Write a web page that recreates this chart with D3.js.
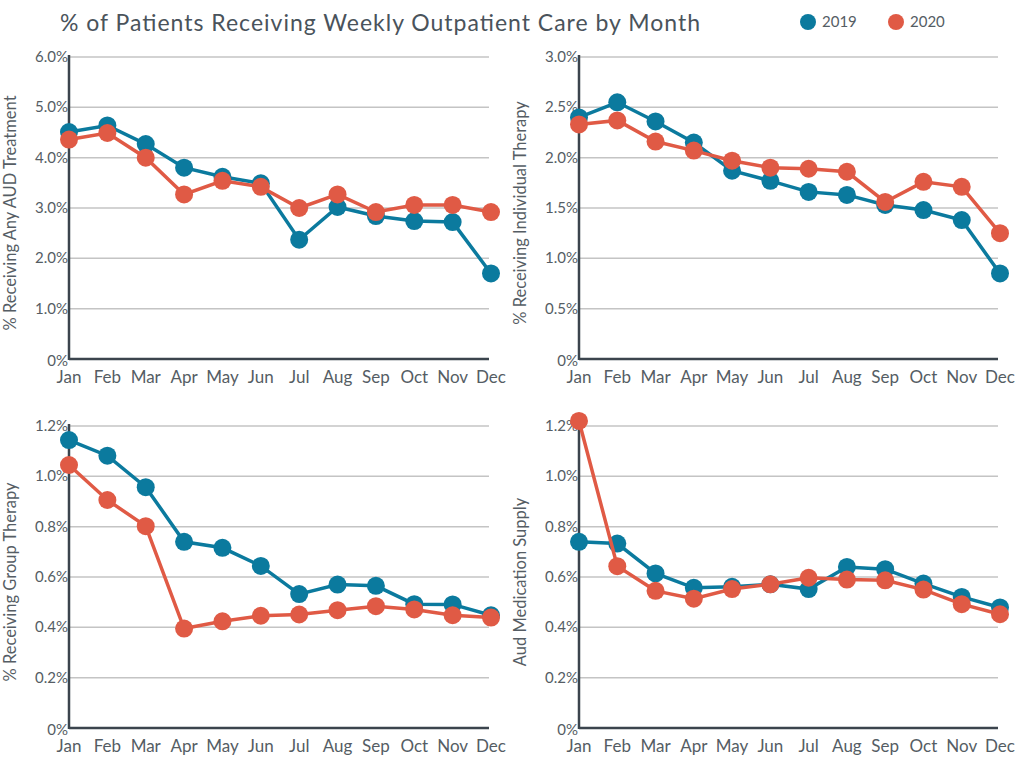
<!DOCTYPE html>
<html>
<head>
<meta charset="utf-8">
<script src="https://cdn.jsdelivr.net/npm/d3@7"></script>
<style>
  body { margin: 0; background: #fff; }
  text { font-family: "Lato", "DejaVu Sans", sans-serif; fill: #555d64; }
</style>
</head>
<body>
<svg id="chart" width="1024" height="768"></svg>
<script>
const months = ["Jan","Feb","Mar","Apr","May","Jun","Jul","Aug","Sep","Oct","Nov","Dec"];
const years = ["2019", "2020"];
const colors = ["#0b7a9e", "#e05a45"];

// values in percent
const anyAud2019 = [4.51, 4.64, 4.27, 3.80, 3.62, 3.49, 2.37, 3.02, 2.84, 2.74, 2.72, 1.70];
const anyAud2020 = [4.36, 4.49, 4.00, 3.27, 3.54, 3.42, 3.00, 3.27, 2.92, 3.06, 3.06, 2.92];
const indiv2019 = [2.40, 2.55, 2.36, 2.15, 1.87, 1.77, 1.66, 1.63, 1.53, 1.48, 1.38, 0.85];
const indiv2020 = [2.33, 2.37, 2.16, 2.07, 1.97, 1.90, 1.89, 1.86, 1.56, 1.76, 1.71, 1.25];
const group2019 = [1.144, 1.082, 0.957, 0.740, 0.716, 0.644, 0.532, 0.570, 0.565, 0.492, 0.491, 0.448];
const group2020 = [1.045, 0.906, 0.802, 0.395, 0.424, 0.446, 0.451, 0.468, 0.484, 0.471, 0.448, 0.439];
const meds2019 = [0.740, 0.733, 0.614, 0.557, 0.561, 0.571, 0.552, 0.640, 0.631, 0.574, 0.521, 0.479];
const meds2020 = [1.220, 0.643, 0.545, 0.514, 0.552, 0.571, 0.597, 0.590, 0.587, 0.550, 0.492, 0.452];

const yTicksTop1 = [0, 1, 2, 3, 4, 5, 6];
const yTicksTop2 = [0, 0.5, 1, 1.5, 2, 2.5, 3];
const yTicksBottom = [0, 0.2, 0.4, 0.6, 0.8, 1.0, 1.2];

const pct = d => d === 0 ? "0%" : d.toFixed(1) + "%";

const panels = [
  {title: "% Receiving Any AUD Treatment", series: [anyAud2019, anyAud2020], ticks: yTicksTop1, max: 6, x0: 69, x1: 491, y0: 359, y1: 57},
  {title: "% Receiving Individual Therapy", series: [indiv2019, indiv2020], ticks: yTicksTop2, max: 3, x0: 579, x1: 1000, y0: 359, y1: 57},
  {title: "% Receiving Group Therapy", series: [group2019, group2020], ticks: yTicksBottom, max: 1.2, x0: 69, x1: 491, y0: 728, y1: 426},
  {title: "Aud Medication Supply", series: [meds2019, meds2020], ticks: yTicksBottom, max: 1.2, x0: 579, x1: 1000, y0: 728, y1: 426}
];

const svg = d3.select("#chart");

svg.append("text")
  .attr("x", 60).attr("y", 31)
  .attr("textLength", 640).attr("lengthAdjust", "spacing")
  .style("font-size", "23px")
  .style("fill", "#4a535b")
  .text("% of Patients Receiving Weekly Outpatient Care by Month");

// legend
years.forEach((yr, i) => {
  const g = svg.append("g").attr("transform", `translate(${808 + i * 88}, 22)`);
  g.append("circle").attr("r", 8).attr("fill", colors[i]);
  g.append("text").attr("x", 14).attr("y", 5).style("font-size", "15px").text(yr);
});

function drawPanel(p) {
  const x = d3.scalePoint().domain(months).range([p.x0, p.x1]);
  const y = d3.scaleLinear().domain([0, p.max]).range([p.y0, p.y1]);
  const g = svg.append("g");

  g.selectAll("line.grid")
    .data(p.ticks.filter(t => t > 0)).enter()
    .append("line")
    .attr("class", "grid")
    .attr("x1", p.x0).attr("x2", p.x1 - 2)
    .attr("y1", d => y(d)).attr("y2", d => y(d))
    .attr("stroke", "#c4c4c4").attr("stroke-width", 1.5);

  // y tick labels
  g.selectAll("text.ytick")
    .data(p.ticks).enter()
    .append("text")
    .attr("class", "ytick")
    .attr("x", p.x0 - 1)
    .attr("y", d => y(d) + (d === 0 ? 7 : 5))
    .attr("text-anchor", "end")
    .style("font-size", "15px")
    .text(pct);

  // axes
  g.append("line")
    .attr("x1", p.x0).attr("x2", p.x0)
    .attr("y1", y(p.max) - 2).attr("y2", p.y0 + 1)
    .attr("stroke", "#3b444d").attr("stroke-width", 2.5);
  g.append("line")
    .attr("x1", p.x0).attr("x2", p.x1 - 2)
    .attr("y1", p.y0).attr("y2", p.y0)
    .attr("stroke", "#3b444d").attr("stroke-width", 2.5);

  // month labels
  g.selectAll("text.xtick")
    .data(months).enter()
    .append("text")
    .attr("class", "xtick")
    .attr("x", d => x(d))
    .attr("y", p.y0 + 24)
    .attr("text-anchor", "middle")
    .style("font-size", "17px")
    .text(d => d);

  // y title
  g.append("text")
    .attr("transform", `translate(${p.x0 - 53}, ${(p.y0 + p.y1) / 2 + 5}) rotate(-90)`)
    .attr("text-anchor", "middle")
    .style("font-size", "16.5px")
    .text(p.title);

  const line = d3.line().x((d, i) => x(months[i])).y(d => y(d));
  p.series.forEach((vals, si) => {
    g.append("path")
      .datum(vals)
      .attr("d", line)
      .attr("fill", "none")
      .attr("stroke", colors[si])
      .attr("stroke-width", 3.5);
    g.selectAll("circle.s" + si)
      .data(vals).enter()
      .append("circle")
      .attr("class", "s" + si)
      .attr("cx", (d, i) => x(months[i]))
      .attr("cy", d => y(d))
      .attr("r", 9)
      .attr("fill", colors[si]);
  });
}

panels.forEach(drawPanel);
</script>
</body>
</html>
